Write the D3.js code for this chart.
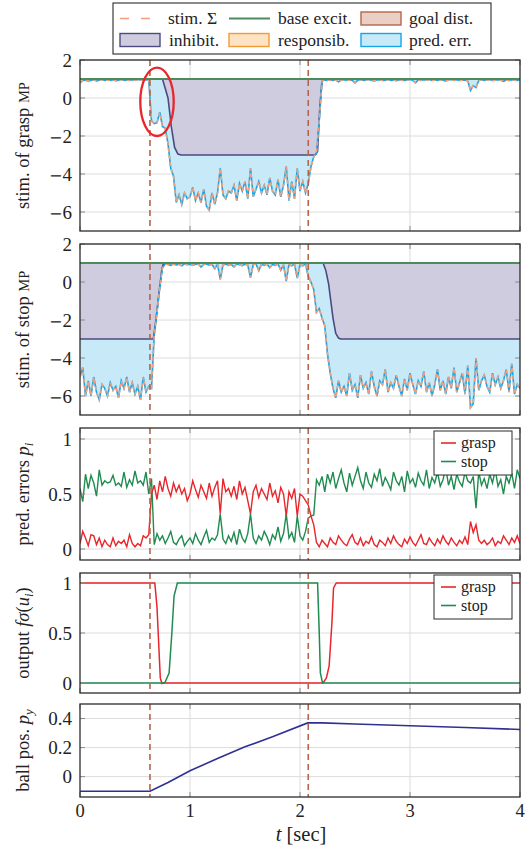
<!DOCTYPE html>
<html><head><meta charset="utf-8">
<script src="https://cdn.jsdelivr.net/npm/d3@7"></script>
<style>
body{margin:0;background:#fff;}
svg text{font-family:"Liberation Serif","Times New Roman",serif;fill:#222;}
</style></head><body>
<svg id="chart" width="530" height="852"></svg>
<script>
// ---------------- data ----------------
const tStep = 0.025; // sampling step of the noisy series (sec)
const xTicks = [0, 1, 2, 3, 4];
const yTicksStim = [-6, -4, -2, 0, 2];
const yTicksPred = [0, 0.5, 1];
const yTicksOut = [0, 0.5, 1];
const yTicksBall = [0, 0.2, 0.4];
const eventTimes = [0.636, 2.075];
const baseExcit = 1;

const graspStim = [
 0.80,0.92,0.95,0.88,0.93,0.96,0.90,0.94,0.97,0.92,0.95,0.93,0.96,0.91,0.94,0.97,0.93,0.95,0.92,0.96,0.94,0.97,0.95,0.92,0.96,0.94,
 -1.2,-1.35,-1.3,-0.75,-1.5,-1.6,-2.4,-3.7,-4.1,-5.5,
 -5.1,-5.6,-5.0,-5.3,-5.2,-4.7,-5.4,-5.0,-5.5,-4.8,-5.7,-5.9,-5.0,-5.6,-5.0,-3.7,-5.1,-5.3,-4.9,-5.0,-4.6,-5.4,-4.5,-4.9,-4.4,-5.3,-3.7,-5.2,-4.8,-4.4,-5.0,-4.6,-5.1,-4.2,-4.9,-5.1,-4.3,-5.2,-4.6,-3.6,-5.4,-4.4,-5.3,-3.7,-4.9,-4.4,-5.0,-4.5,-3.6,-3.1,-2.9,-1.2,0.9,
 0.95,0.93,0.96,0.92,0.95,0.85,0.94,0.96,0.92,0.95,
 0.93,0.80,0.94,0.96,0.92,0.95,0.97,0.93,0.90,0.95,
 0.96,0.92,0.94,0.97,0.93,0.95,0.91,0.96,0.94,0.92,
 0.95,0.97,0.93,0.80,0.95,0.92,0.96,0.94,0.97,0.93,
 0.95,0.92,0.96,0.94,0.90,0.95,0.97,0.93,0.96,0.92,
 0.94,0.95,0.90,0.40,0.65,0.55,0.92,0.96,0.93,0.95,
 0.97,0.92,0.94,0.96,0.93,0.88,0.95,0.92,0.96,0.94,
 0.93,0.96
];
const graspInhibT = [0, 0.75, 0.775, 0.80, 0.83, 0.86, 0.89, 0.92, 2.14, 2.16, 2.18, 2.20, 2.21, 4];
const graspInhibV = [1, 1, 0.5, 0, -1.5, -2.6, -2.95, -3, -3, -2.8, -0.5, 0.9, 1, 1];

const stopStim = [
 -5.0,-4.5,-6.0,-5.2,-6.0,-5.0,-5.8,-6.2,-5.4,-5.6,-6.0,-5.3,-5.7,-5.5,-6.1,-5.2,-5.6,-5.0,-5.8,-5.3,-5.9,-5.5,-6.2,-5.0,-5.8,-5.5,
 -5.6,-2.8,-1.6,-0.3,0.75,0.95,
 0.92,0.88,0.95,0.90,0.93,0.85,0.95,0.91,0.94,0.88,
 0.93,0.96,0.78,0.92,0.95,0.89,0.93,0.70,0.94,0.14,
 0.90,0.95,0.88,0.93,0.80,0.95,0.91,0.86,0.94,0.90,
 0.23,0.92,0.95,0.60,0.93,0.87,0.95,0.75,0.92,0.88,
 0.95,0.62,0.90,0.05,0.93,0.85,0.94,0.20,0.90,0.85,
 0.95,0.3,0.0,-0.4,-1.6,-1.4,-1.9,-2.3,-3.8,-4.8,-5.6,-6.1,
 -5.2,-5.8,-5.5,-6.0,-4.8,-5.7,-5.4,-6.1,-4.9,-5.6,
 -5.3,-5.9,-4.7,-5.5,-6.0,-5.2,-5.4,-4.6,-5.8,-5.3,
 -5.6,-4.9,-5.5,-6.0,-5.1,-5.7,-4.8,-5.4,-5.9,-5.2,
 -5.5,-4.7,-5.8,-5.3,-6.0,-5.4,-4.6,-5.7,-5.2,-5.9,
 -5.0,-5.6,-4.5,-5.8,-5.3,-4.8,-5.9,-4.4,-6.6,-6.4,
 -4.0,-5.7,-5.2,-4.9,-5.5,-5.8,-4.8,-5.4,-5.0,-5.6,
 -5.2,-4.6,-5.8,-4.3,-5.9,-5.4,-5.6
];
const stopInhibT = [0, 0.667, 0.69, 0.72, 0.745, 0.76, 2.21, 2.235, 2.26, 2.28, 2.30, 2.325, 2.35, 2.37, 4];
const stopInhibV = [-3, -3, -2, -0.5, 0.7, 1, 1, 0.6, -0.1, -1.0, -1.9, -2.7, -2.95, -3, -3];

const predGrasp = [
 0.05,0.16,0.10,0.03,0.13,0.12,0.04,0.10,0.02,0.08,
 0.04,0.02,0.10,0.03,0.07,0.05,0.08,0.02,0.13,0.05,
 0.02,0.05,0.03,0.12,0.10,0.13,
 0.50,0.58,0.45,0.62,0.52,0.66,0.55,0.48,0.60,0.52,
 0.58,0.50,0.55,0.44,0.50,0.62,0.54,0.47,0.58,0.52,
 0.46,0.60,0.48,0.56,0.62,0.32,0.64,0.52,0.55,0.48,
 0.57,0.45,0.62,0.50,0.56,0.44,0.32,0.52,0.58,0.47,
 0.55,0.50,0.45,0.60,0.48,0.53,0.42,0.56,0.50,0.30,
 0.52,0.46,0.55,0.30,0.50,0.48,0.44,0.40,0.30,0.22,
 0.06,0.02,0.08,0.05,0.02,0.10,0.06,0.04,0.12,0.08,
 0.05,0.03,0.09,0.13,0.06,0.04,0.10,0.03,0.07,0.05,
 0.11,0.04,0.02,0.08,0.06,0.03,0.10,0.05,0.12,0.07,
 0.04,0.02,0.09,0.05,0.11,0.06,0.03,0.08,0.13,0.05,
 0.04,0.10,0.06,0.03,0.09,0.05,0.12,0.07,0.04,0.10,
 0.06,0.03,0.08,0.05,0.11,0.04,0.25,0.15,0.22,0.08,
 0.05,0.08,0.04,0.06,0.10,0.03,0.07,0.05,0.12,0.08,
 0.04,0.10,0.06,0.12,0.05
];
const predStop = [
 0.55,0.43,0.68,0.55,0.67,0.60,0.48,0.72,0.58,0.62,
 0.60,0.61,0.67,0.58,0.60,0.57,0.70,0.56,0.63,0.58,
 0.71,0.60,0.62,0.58,0.70,0.50,
 0.64,0.04,0.14,0.08,0.12,0.05,0.10,0.16,0.06,0.04,
 0.09,0.12,0.03,0.07,0.10,0.05,0.14,0.08,0.04,0.11,
 0.17,0.06,0.10,0.08,0.13,0.32,0.09,0.05,0.12,0.07,
 0.15,0.04,0.18,0.10,0.06,0.14,0.32,0.10,0.05,0.12,
 0.08,0.16,0.11,0.04,0.13,0.09,0.20,0.07,0.14,0.32,
 0.10,0.15,0.06,0.30,0.12,0.08,0.16,0.28,0.30,0.31,
 0.63,0.58,0.66,0.52,0.68,0.60,0.70,0.55,0.64,0.72,
 0.60,0.52,0.69,0.58,0.66,0.74,0.62,0.55,0.70,0.60,
 0.56,0.68,0.62,0.73,0.57,0.65,0.60,0.54,0.70,0.62,
 0.58,0.66,0.52,0.71,0.60,0.64,0.56,0.69,0.62,0.58,
 0.72,0.55,0.65,0.60,0.70,0.57,0.63,0.74,0.58,0.66,
 0.54,0.68,0.61,0.57,0.70,0.62,0.60,0.66,0.37,0.70,
 0.58,0.64,0.55,0.68,0.60,0.72,0.57,0.63,0.50,0.66,
 0.60,0.69,0.55,0.72,0.64
];

const outGraspT = [0, 0.68, 0.70, 0.73, 0.745, 0.76, 2.21, 2.24, 2.265, 2.29, 2.305, 2.33, 4];
const outGraspV = [1, 1, 0.76, 0.05, -0.005, 0, 0, 0.05, 0.17, 0.6, 0.95, 1, 1];
const outStopT = [0, 0.77, 0.81, 0.835, 0.855, 0.885, 2.16, 2.175, 2.185, 2.205, 4];
const outStopV = [0, 0, 0.1, 0.5, 0.87, 1, 1, 0.5, 0.1, 0, 0];

const ballT = [0, 0.636, 0.8, 1.0, 1.25, 1.5, 1.75, 2.07, 2.2, 2.5, 3.0, 3.5, 4];
const ballV = [-0.1, -0.1, -0.04, 0.04, 0.125, 0.205, 0.275, 0.37, 0.37, 0.362, 0.35, 0.338, 0.325];

// annotation ellipse (data units, panel 1)
const markT = 0.70, markV = -0.2, markDT = 0.152, markDV = 1.8;

// ---------------- drawing ----------------
const C = {
  grid:'#dcdcdc', tick:'#8a8a8a', frame:'#2b2b2b',
  stim:'#f0a07f', base:'#4e8b5a', goalF:'#ead0c4', goalS:'#b5654a',
  inhF:'#cfcce0', inhS:'#4b4a80', respF:'#fde3c4', respS:'#f39b33',
  errF:'#c8e9f8', errS:'#14a7e8', red:'#e8262b', green:'#1f8b50',
  event:'#b5654a', ball:'#2e3192'
};
const svg = d3.select('#chart');
const x = d3.scaleLinear().domain([0, 4]).range([80, 520]);
const series = arr => arr.map((v, i) => [i * tStep, v]);
const pairs = (T, V) => T.map((t, i) => [t, V[i]]);

function tickText(sel) {
  sel.each(function(v) {
    const t = d3.select(this);
    if (v < 0) t.append('tspan').attr('font-family', 'DejaVu Serif').attr('font-size', 16).text('\u2212');
    t.append('tspan').text(Math.abs(v));
  });
}

function panel(idx, top, bottom, domain, ticks, drawFn) {
  const y = d3.scaleLinear().domain(domain).range([bottom, top]);
  const g = svg.append('g');
  const clipId = 'clip' + idx;
  svg.append('clipPath').attr('id', clipId).append('rect')
    .attr('x', x(0)).attr('y', top).attr('width', x(4) - x(0)).attr('height', bottom - top);
  g.selectAll('.hg').data(ticks).enter().append('line')
    .attr('x1', x(0)).attr('x2', x(4)).attr('y1', d => y(d)).attr('y2', d => y(d))
    .attr('stroke', C.grid).attr('stroke-width', 1);
  g.selectAll('.vg').data(xTicks.slice(1, -1)).enter().append('line')
    .attr('x1', d => x(d)).attr('x2', d => x(d)).attr('y1', top).attr('y2', bottom)
    .attr('stroke', C.grid).attr('stroke-width', 1);
  const inner = g.append('g').attr('clip-path', `url(#${clipId})`);
  const line = d3.line().x(d => x(d[0])).y(d => y(d[1]));
  drawFn(inner, y, line);
  inner.selectAll('.ev').data(eventTimes).enter().append('line')
    .attr('x1', d => x(d)).attr('x2', d => x(d)).attr('y1', top).attr('y2', bottom)
    .attr('stroke', C.event).attr('stroke-width', 1.6).attr('stroke-dasharray', '6,4');
  ticks.forEach(v => {
    g.append('line').attr('x1', x(0)).attr('x2', x(0) + 5).attr('y1', y(v)).attr('y2', y(v)).attr('stroke', C.tick);
    g.append('line').attr('x1', x(4) - 5).attr('x2', x(4)).attr('y1', y(v)).attr('y2', y(v)).attr('stroke', C.tick);
  });
  xTicks.forEach(t => {
    g.append('line').attr('x1', x(t)).attr('x2', x(t)).attr('y1', bottom).attr('y2', bottom - 5).attr('stroke', C.tick);
    g.append('line').attr('x1', x(t)).attr('x2', x(t)).attr('y1', top).attr('y2', top + 5).attr('stroke', C.tick);
  });
  g.append('rect').attr('x', x(0)).attr('y', top).attr('width', x(4) - x(0)).attr('height', bottom - top)
    .attr('fill', 'none').attr('stroke', C.frame).attr('stroke-width', 1.3);
  g.selectAll('.yl').data(ticks).enter().append('text')
    .attr('x', x(0) - 8).attr('y', d => y(d)).attr('dy', '0.35em')
    .attr('text-anchor', 'end').attr('font-size', 19).call(tickText);
  return {g, y, top, bottom};
}

function yLabel(p, parts) {
  const cy = (p.top + p.bottom) / 2;
  const t = svg.append('text').attr('transform', `translate(23,${cy}) rotate(-90)`)
    .attr('text-anchor', 'middle').attr('dy', '0.35em').attr('font-size', 18.5);
  parts.forEach(pt => {
    const s = t.append('tspan').text(pt.t);
    if (pt.i) s.attr('font-style', 'italic');
    if (pt.sm) s.attr('font-size', 14.5);
    if (pt.sub) s.attr('font-size', 13).attr('dy', 4);
    if (pt.up) s.attr('dy', -4);
  });
}

function stimPanel(idx, top, bottom, stim, inhT, inhV) {
  return panel(idx, top, bottom, [-7, 2], yTicksStim, (g, y, line) => {
    const inh = pairs(inhT, inhV);
    const st = series(stim);
    const basePts = [[0, baseExcit], [4, baseExcit]];
    g.append('path').attr('d', line(basePts.concat(inh.slice().reverse())) + 'Z')
      .attr('fill', C.inhF).attr('stroke', 'none');
    g.append('path').attr('d', line(inh.concat(st.slice().reverse())) + 'Z')
      .attr('fill', C.errF).attr('stroke', 'none');
    g.append('path').attr('d', line(inh)).attr('fill', 'none').attr('stroke', C.inhS).attr('stroke-width', 1.6);
    g.append('path').attr('d', line(st)).attr('fill', 'none').attr('stroke', C.errS).attr('stroke-width', 1.6);
    g.append('path').attr('d', line(st)).attr('fill', 'none').attr('stroke', C.stim)
      .attr('stroke-width', 1.6).attr('stroke-dasharray', '4,3');
    g.append('path').attr('d', line(basePts)).attr('fill', 'none').attr('stroke', C.base).attr('stroke-width', 2.2);
  });
}

const p1 = stimPanel(1, 60, 231, graspStim, graspInhibT, graspInhibV);
yLabel(p1, [{t:'stim. of grasp '}, {t:'MP', sm:true}]);
svg.append('ellipse')
  .attr('cx', x(markT)).attr('cy', p1.y(markV))
  .attr('rx', x(markT + markDT) - x(markT)).attr('ry', p1.y(markV) - p1.y(markV + markDV))
  .attr('fill', 'none').attr('stroke', C.red).attr('stroke-width', 2.3);

const p2 = stimPanel(2, 244, 415, stopStim, stopInhibT, stopInhibV);
yLabel(p2, [{t:'stim. of stop '}, {t:'MP', sm:true}]);

const p3 = panel(3, 428, 560, [-0.1, 1.1], yTicksPred, (g, y, line) => {
  g.append('path').attr('d', line(series(predStop))).attr('fill', 'none').attr('stroke', C.green).attr('stroke-width', 1.4);
  g.append('path').attr('d', line(series(predGrasp))).attr('fill', 'none').attr('stroke', C.red).attr('stroke-width', 1.4);
});
yLabel(p3, [{t:'pred. errors '}, {t:'p', i:true}, {t:'i', i:true, sub:true}]);

const p4 = panel(4, 573, 693, [-0.1, 1.1], yTicksOut, (g, y, line) => {
  g.append('path').attr('d', line(pairs(outGraspT, outGraspV))).attr('fill', 'none').attr('stroke', C.red).attr('stroke-width', 1.5);
  g.append('path').attr('d', line(pairs(outStopT, outStopV))).attr('fill', 'none').attr('stroke', C.green).attr('stroke-width', 1.5);
});
yLabel(p4, [{t:'output '}, {t:'f\u03C3', i:true}, {t:'('}, {t:'u', i:true}, {t:'i', i:true, sub:true}, {t:')', up:true}]);

const p5 = panel(5, 704, 797, [-0.14, 0.5], yTicksBall, (g, y, line) => {
  g.append('path').attr('d', line(pairs(ballT, ballV))).attr('fill', 'none').attr('stroke', C.ball).attr('stroke-width', 1.6);
});
yLabel(p5, [{t:'ball pos. '}, {t:'p', i:true}, {t:'y', i:true, sub:true}]);

svg.selectAll('.xl').data(xTicks).enter().append('text')
  .attr('x', d => x(d)).attr('y', 817).attr('text-anchor', 'middle').attr('font-size', 18.5).text(d => d);
const xt = svg.append('text').attr('x', 301).attr('y', 841).attr('text-anchor', 'middle').attr('font-size', 20.5);
xt.append('tspan').attr('font-style', 'italic').text('t');
xt.append('tspan').text(' [sec]');

function smallLegend(yTop) {
  const g = svg.append('g');
  g.append('rect').attr('x', 434).attr('y', yTop).attr('width', 78).attr('height', 44)
    .attr('fill', '#fff').attr('stroke', C.frame).attr('stroke-width', 1);
  [[C.red, 'grasp'], [C.green, 'stop']].forEach((d, i) => {
    const cy = yTop + 12 + i * 18.5;
    g.append('line').attr('x1', 441).attr('x2', 456).attr('y1', cy).attr('y2', cy).attr('stroke', d[0]).attr('stroke-width', 1.6);
    g.append('text').attr('x', 461).attr('y', cy).attr('dy', '0.32em').attr('font-size', 16).text(d[1]);
  });
}
smallLegend(431);
smallLegend(575);

const lg = svg.append('g');
lg.append('rect').attr('x', 113).attr('y', 3).attr('width', 378).attr('height', 51)
  .attr('fill', '#fff').attr('stroke', C.frame).attr('stroke-width', 1.1);
const r1 = 18.5, r2 = 40;
lg.append('line').attr('x1', 120).attr('x2', 151).attr('y1', r1).attr('y2', r1)
  .attr('stroke', C.stim).attr('stroke-width', 1.6).attr('stroke-dasharray', '9,12');
lg.append('line').attr('x1', 229).attr('x2', 270).attr('y1', r1).attr('y2', r1)
  .attr('stroke', C.base).attr('stroke-width', 2);
const boxes = [
  [361, r1, C.goalF, C.goalS], [120, r2, C.inhF, C.inhS],
  [229, r2, C.respF, C.respS], [361, r2, C.errF, C.errS]
];
boxes.forEach(b => lg.append('rect').attr('x', b[0]).attr('y', b[1] - 6.5).attr('width', 40).attr('height', 13)
  .attr('fill', b[2]).attr('stroke', b[3]).attr('stroke-width', 1.4));
const labels = [
  [168, r1, 'stim. \u03A3'], [278, r1, 'base excit.'], [409, r1, 'goal dist.'],
  [169, r2, 'inhibit.'], [278, r2, 'responsib.'], [409, r2, 'pred. err.']
];
labels.forEach(l => lg.append('text').attr('x', l[0]).attr('y', l[1]).attr('dy', '0.32em')
  .attr('font-size', 17.5).text(l[2]));
</script>
</body></html>
